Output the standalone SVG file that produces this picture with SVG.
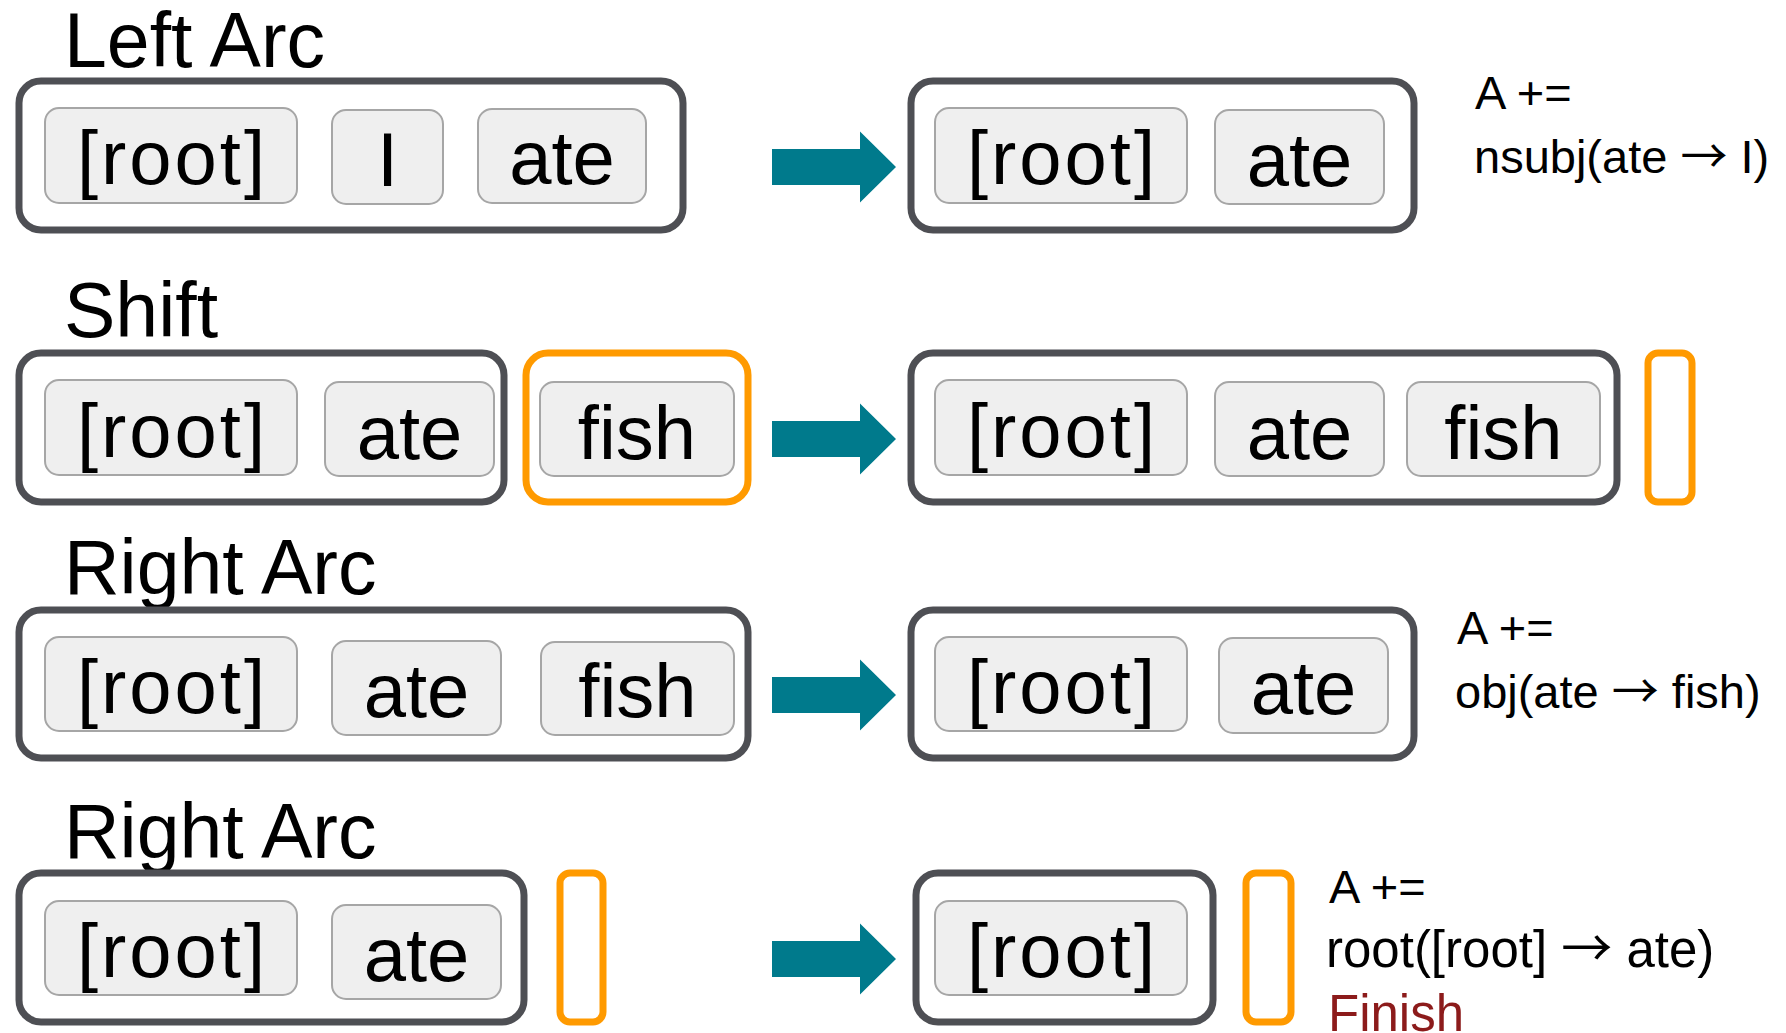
<svg xmlns="http://www.w3.org/2000/svg" width="1786" height="1033" viewBox="0 0 1786 1033">
<defs>
<style>
.title{font-family:"Liberation Sans",Arial,sans-serif;font-size:77px;fill:#000}
.tok{font-family:"Liberation Sans",Arial,sans-serif;font-size:76px;fill:#000;text-anchor:middle}
.note{font-family:"Liberation Sans",Arial,sans-serif;font-size:47px;fill:#000}
.note4{font-family:"Liberation Sans",Arial,sans-serif;font-size:51px;fill:#000}
.ar{font-family:"Noto Sans CJK SC",sans-serif}
.fin{fill:#8c1b1b}
.stack{fill:#fff;stroke:#4e4f54;stroke-width:7}
.buf{fill:#fff;stroke:#ff9a00;stroke-width:7}
.word{fill:#efefef;stroke:#a6a6a6;stroke-width:2}
.arr{fill:#007a8c}
</style>
</defs>
<rect width="1786" height="1033" fill="#fff"/>

<g id="row1">
<text class="title" x="64" y="67">Left Arc</text>
<g id="r1-left">
<rect class="stack" x="19" y="81" width="664" height="149" rx="22"/>
<rect class="word" x="45" y="108" width="252" height="95" rx="14"/><text class="tok" x="171" y="184" textLength="188" lengthAdjust="spacing">[root]</text>
<rect class="word" x="332" y="110" width="111" height="94" rx="14"/><text class="tok" x="387.5" y="186">I</text>
<rect class="word" x="478" y="109" width="168" height="94" rx="14"/><text class="tok" x="562" y="184">ate</text>
</g>
<g id="r1-right">
<rect class="stack" x="911" y="81" width="503" height="149" rx="22"/>
<rect class="word" x="935" y="108" width="252" height="95" rx="14"/><text class="tok" x="1061" y="184" textLength="188" lengthAdjust="spacing">[root]</text>
<rect class="word" x="1215" y="110" width="169" height="94" rx="14"/><text class="tok" x="1299.5" y="186">ate</text>
</g>
<g id="r1-note">
<text class="note" x="1475" y="109">A +=</text>
<text class="note" x="1474" y="173">nsubj(ate <tspan class="ar">→</tspan> I)</text>
</g>
</g>

<g id="row2">
<text class="title" x="64" y="337">Shift</text>
<g id="r2-left">
<rect class="stack" x="19" y="353" width="485" height="149" rx="22"/>
<rect class="word" x="45" y="380" width="252" height="95" rx="14"/><text class="tok" x="171" y="457" textLength="188" lengthAdjust="spacing">[root]</text>
<rect class="word" x="325" y="382" width="169" height="94" rx="14"/><text class="tok" x="409.5" y="459">ate</text>
</g>
<g id="r2-buffer">
<rect class="buf" x="526" y="353" width="222" height="149" rx="22"/>
<rect class="word" x="540" y="382" width="194" height="94" rx="14"/><text class="tok" x="637" y="459">fish</text>
</g>
<g id="r2-right">
<rect class="stack" x="911" y="353" width="706" height="149" rx="22"/>
<rect class="word" x="935" y="380" width="252" height="95" rx="14"/><text class="tok" x="1061" y="457" textLength="188" lengthAdjust="spacing">[root]</text>
<rect class="word" x="1215" y="382" width="169" height="94" rx="14"/><text class="tok" x="1299.5" y="459">ate</text>
<rect class="word" x="1407" y="382" width="193" height="94" rx="14"/><text class="tok" x="1503.5" y="459">fish</text>
</g>
<g id="r2-right-buffer">
<rect class="buf" x="1648" y="353" width="44" height="149" rx="10"/>
</g>
</g>

<g id="row3">
<text class="title" x="64" y="594">Right Arc</text>
<g id="r3-left">
<rect class="stack" x="19" y="610" width="729" height="148" rx="22"/>
<rect class="word" x="45" y="637" width="252" height="94" rx="14"/><text class="tok" x="171" y="713" textLength="188" lengthAdjust="spacing">[root]</text>
<rect class="word" x="332" y="641" width="169" height="94" rx="14"/><text class="tok" x="416.5" y="717">ate</text>
<rect class="word" x="541" y="642" width="193" height="93" rx="14"/><text class="tok" x="637.5" y="717">fish</text>
</g>
<g id="r3-right">
<rect class="stack" x="911" y="610" width="503" height="148" rx="22"/>
<rect class="word" x="935" y="637" width="252" height="94" rx="14"/><text class="tok" x="1061" y="713" textLength="188" lengthAdjust="spacing">[root]</text>
<rect class="word" x="1219" y="638" width="169" height="95" rx="14"/><text class="tok" x="1303.5" y="714">ate</text>
</g>
<g id="r3-note">
<text class="note" x="1457" y="644">A +=</text>
<text class="note" x="1455" y="708">obj(ate <tspan class="ar">→</tspan> fish)</text>
</g>
</g>

<g id="row4">
<text class="title" x="64" y="858">Right Arc</text>
<g id="r4-left">
<rect class="stack" x="19" y="873" width="505" height="149" rx="22"/>
<rect class="word" x="45" y="901" width="252" height="94" rx="14"/><text class="tok" x="171" y="977" textLength="188" lengthAdjust="spacing">[root]</text>
<rect class="word" x="332" y="905" width="169" height="94" rx="14"/><text class="tok" x="416.5" y="981">ate</text>
</g>
<g id="r4-left-buffer">
<rect class="buf" x="560" y="873" width="43" height="149" rx="10"/>
</g>
<g id="r4-right">
<rect class="stack" x="916" y="873" width="297" height="149" rx="22"/>
<rect class="word" x="935" y="901" width="252" height="94" rx="14"/><text class="tok" x="1061" y="977" textLength="188" lengthAdjust="spacing">[root]</text>
</g>
<g id="r4-right-buffer">
<rect class="buf" x="1246" y="873" width="45" height="149" rx="10"/>
</g>
<g id="r4-note">
<text class="note" x="1329" y="903">A +=</text>
<text class="note4" x="1326" y="967">root([root] <tspan class="ar">→</tspan> ate)</text>
<text class="note4 fin" x="1328" y="1031">Finish</text>
</g>
</g>

<g id="connectors">
<path class="arr" d="M772 149H860V131.5L896 167L860 202.5V185H772Z"/>
<path class="arr" d="M772 421H860V403.5L896 439L860 474.5V457H772Z"/>
<path class="arr" d="M772 677H860V659.5L896 695L860 730.5V713H772Z"/>
<path class="arr" d="M772 941H860V923.5L896 959L860 994.5V977H772Z"/>
</g>
</svg>
